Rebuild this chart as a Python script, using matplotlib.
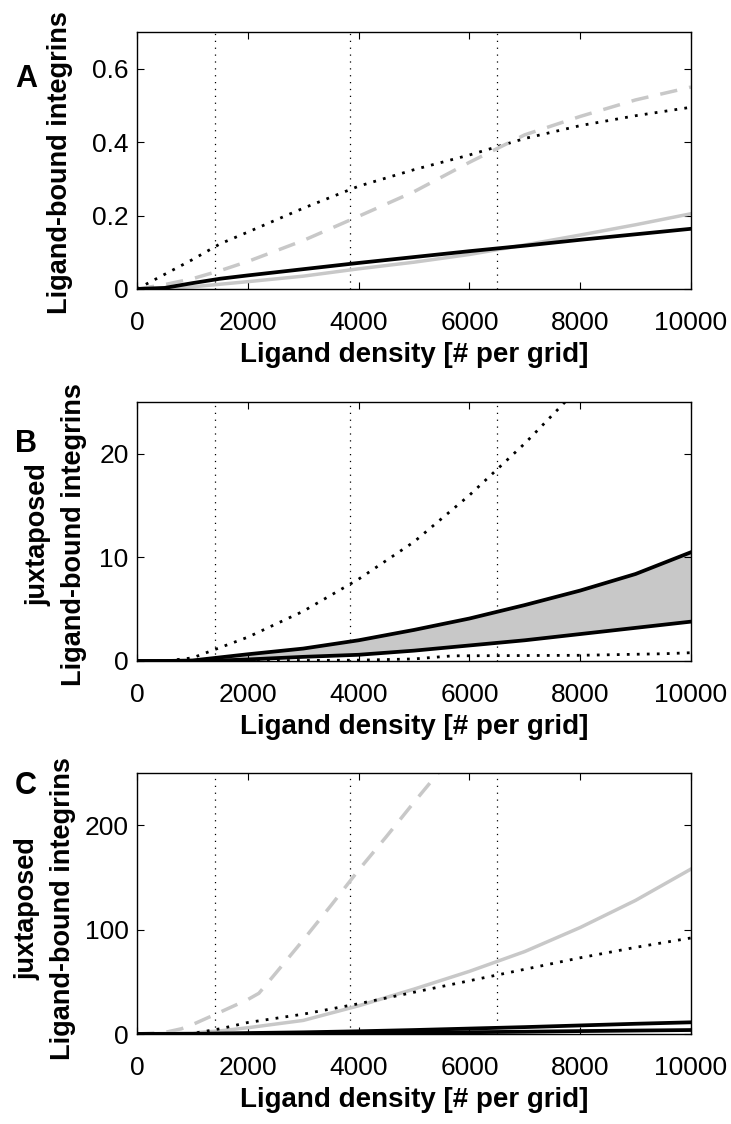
import numpy as np
import matplotlib.pyplot as plt

# ligand density grid
dens = [0, 500, 1000, 1500, 2000, 3000, 4000, 5000, 6000, 7000, 8000, 9000, 10000]

# panel A
a_dot = [0, 0.04, 0.08, 0.123, 0.155, 0.22, 0.28, 0.325, 0.365, 0.41, 0.445, 0.472, 0.495]
a_dash = [0, 0.012, 0.028, 0.05, 0.075, 0.132, 0.198, 0.265, 0.345, 0.42, 0.47, 0.515, 0.55]
a_black = [0, 0.003, 0.016, 0.028, 0.037, 0.054, 0.071, 0.087, 0.103, 0.118, 0.134, 0.149, 0.164]
a_gray = [0, 0.002, 0.006, 0.013, 0.02, 0.035, 0.055, 0.073, 0.094, 0.12, 0.147, 0.175, 0.205]

# panel B
b_dot_x = [0, 500, 1000, 1500, 2000, 3000, 4000, 5000, 6000, 7000, 8000]
b_dot = [0, 0, 0.3, 1.3, 2.3, 4.8, 7.9, 11.5, 16.0, 21.0, 26.5]
b_up = [0, 0, 0.05, 0.35, 0.65, 1.2, 2.0, 3.0, 4.1, 5.4, 6.8, 8.4, 10.5]
b_low = [0, 0, 0, 0.05, 0.15, 0.4, 0.6, 1.0, 1.5, 2.0, 2.6, 3.2, 3.8]
b_low_dot_x = [0, 2000, 4000, 5000, 5700, 8000, 9500, 10000]
b_low_dot = [0, 0.02, 0.08, 0.2, 0.5, 0.55, 0.7, 0.8]

# panel C
c_dash_x = [0, 500, 800, 1000, 1400, 2000, 2200, 2500, 3000, 3500, 4000, 4500, 5000, 5500]
c_dash = [0, 1.5, 5, 9, 18.5, 33, 39, 58, 90, 123, 157, 189, 222, 254]
c_gray = [0, 0.5, 1, 3, 6, 13, 27, 43, 60, 79, 102, 128, 158]
c_dot = [0, 0, 0.5, 5, 11, 19, 29, 40, 51, 62, 73, 83, 92]
c_up = [0, 0, 0.1, 0.5, 0.9, 1.6, 2.6, 3.8, 5.2, 6.6, 8.2, 9.8, 11.2]
c_low = [0, 0, 0, 0.1, 0.2, 0.5, 0.8, 1.2, 1.7, 2.2, 2.8, 3.3, 3.8]

# dotted reference densities
vlines = [1400, 3850, 6500]

xticks = [0, 2000, 4000, 6000, 8000, 10000]
gray = '#c8c8c8'

lab_font = ['Liberation Sans', 'DejaVu Sans']

fig = plt.figure(figsize=(7.31, 11.24), dpi=100)
W, H = 731.0, 1124.0

def make_ax(top, bottom):
    ax = fig.add_axes([137 / W, 1 - bottom / H, 554 / W, (bottom - top) / H])
    ax.set_xlim(0, 10000)
    ax.set_xticks(xticks)
    ax.tick_params(direction='in', top=True, right=True, length=5, width=0.8,
                   labelsize=19)
    ax.tick_params(axis='x', pad=16)
    ax.tick_params(axis='y', pad=6)
    for lab in ax.get_xticklabels() + ax.get_yticklabels():
        lab.set_family(lab_font)
    for s in ax.spines.values():
        s.set_linewidth(1.0)
    for v in vlines:
        ax.axvline(v, color='black', lw=0.9, linestyle=(0, (1, 4.5)), zorder=1)
    # x label
    fig.text(414 / W, 1 - (bottom + 66) / H, 'Ligand density [# per grid]',
             ha='center', va='center', fontsize=20, fontweight='bold', family=lab_font)
    return ax

dot = (0, (1, 2.6))
dash = (0, (5, 3.5))

# A
ax1 = make_ax(32, 289)
ax1.plot(dens, a_dot, color='black', lw=2, linestyle=dot)
ax1.plot(dens, a_dash, color=gray, lw=2.5, linestyle=dash)
ax1.plot(dens, a_gray, color=gray, lw=2.5)
ax1.plot(dens, a_black, color='black', lw=2.7)
ax1.set_ylim(0, 0.7)
ax1.set_yticks([0, 0.2, 0.4, 0.6])
ax1.set_yticklabels(['0', '0.2', '0.4', '0.6'])
fig.text(60 / W, 1 - 163 / H, 'Ligand-bound integrins', rotation=90, ha='center',
         va='center', fontsize=19.5, fontweight='bold', family=lab_font)
fig.text(26 / W, 1 - 79 / H, 'A', ha='center', va='center', fontsize=22,
         fontweight='bold', family=lab_font)

# B
ax2 = make_ax(402, 661)
ax2.fill_between(dens, b_low, b_up, color=gray, lw=0)
ax2.plot(b_dot_x, b_dot, color='black', lw=2, linestyle=dot)
ax2.plot(b_low_dot_x, b_low_dot, color='black', lw=2, linestyle=dot)
ax2.plot(dens, b_up, color='black', lw=2.7)
ax2.plot(dens, b_low, color='black', lw=2.7)
ax2.set_ylim(0, 25)
ax2.set_yticks([0, 10, 20])
fig.text(74 / W, 1 - 535 / H, 'Ligand-bound integrins', rotation=90, ha='center',
         va='center', fontsize=19.5, fontweight='bold', family=lab_font)
fig.text(38 / W, 1 - 535 / H, 'juxtaposed', rotation=90, ha='center',
         va='center', fontsize=19.5, fontweight='bold', family=lab_font)
fig.text(26 / W, 1 - 444 / H, 'B', ha='center', va='center', fontsize=22,
         fontweight='bold', family=lab_font)

# C
ax3 = make_ax(773, 1034)
ax3.plot(c_dash_x, c_dash, color=gray, lw=2.5, linestyle=dash)
ax3.plot(dens, c_gray, color=gray, lw=2.5)
ax3.plot(dens, c_dot, color='black', lw=2, linestyle=dot)
ax3.plot(dens, c_up, color='black', lw=2.7)
ax3.plot(dens, c_low, color='black', lw=2.7)
ax3.set_ylim(0, 250)
ax3.set_yticks([0, 100, 200])
fig.text(63 / W, 1 - 909 / H, 'Ligand-bound integrins', rotation=90, ha='center',
         va='center', fontsize=19.5, fontweight='bold', family=lab_font)
fig.text(27 / W, 1 - 909 / H, 'juxtaposed', rotation=90, ha='center',
         va='center', fontsize=19.5, fontweight='bold', family=lab_font)
fig.text(26 / W, 1 - 786 / H, 'C', ha='center', va='center', fontsize=22,
         fontweight='bold', family=lab_font)

fig.savefig('out.png', dpi=100)
